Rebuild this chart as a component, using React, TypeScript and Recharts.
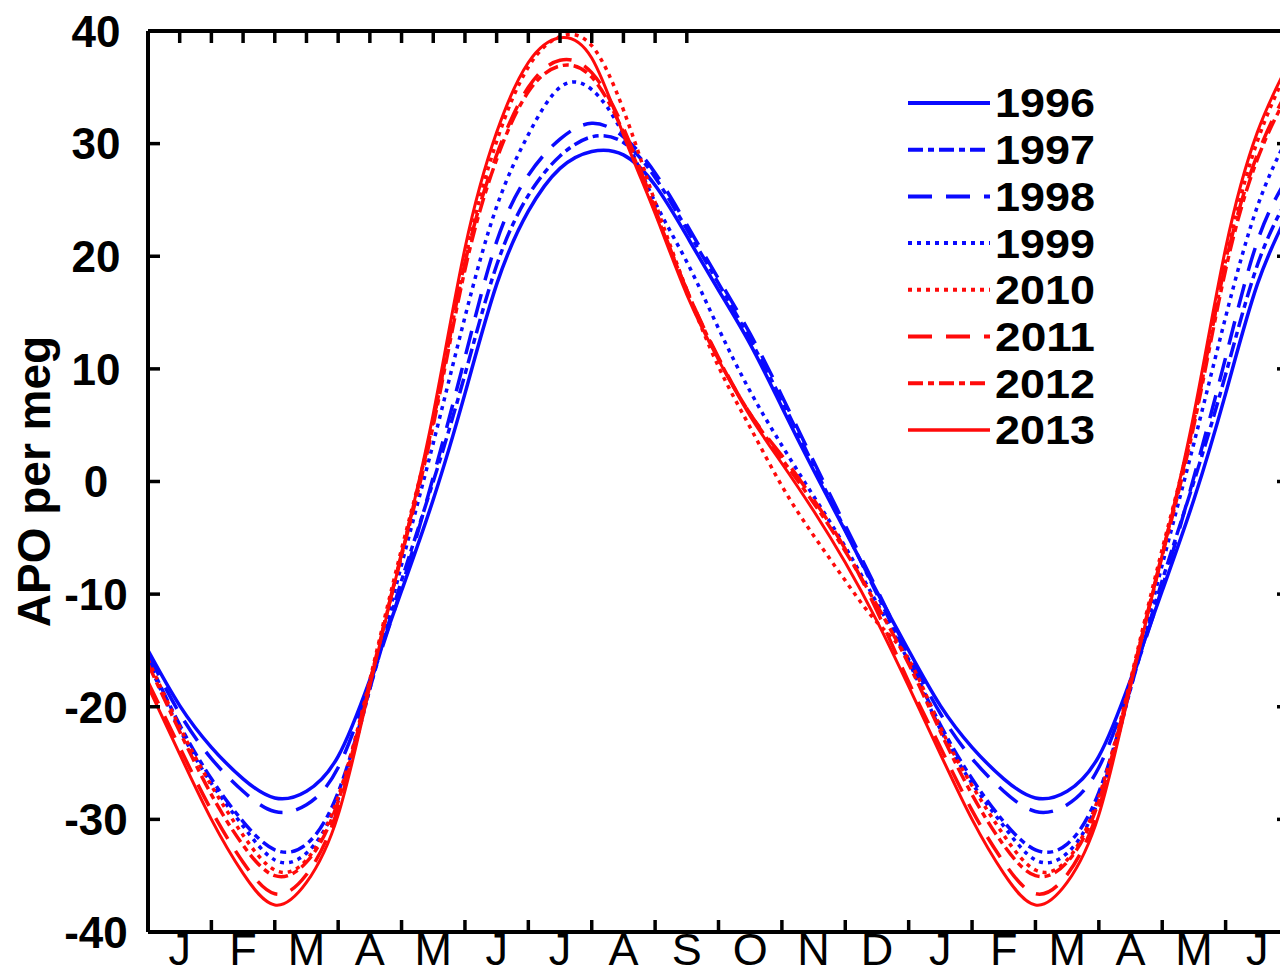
import React from "react";
import { LineChart, Line, XAxis, YAxis, Legend, Label } from "recharts";

const FONT = '"Liberation Sans", Arial, Helvetica, sans-serif';
const BLUE = "#0a0aff";
const RED = "#ff0a0a";
const TICK = 12;

// months since 1 Jan, half-month steps, 18 months shown
const MONTH_X = [
  0, 0.5, 1, 1.5, 2, 2.5, 3, 3.5, 4, 4.5, 5, 5.5, 6, 6.5, 7, 7.5, 8, 8.5, 9,
  9.5, 10, 10.5, 11, 11.5, 12, 12.5, 13, 13.5, 14, 14.5, 15, 15.5, 16, 16.5,
  17, 17.5, 18,
];
const MONTH_LABELS = ["J", "F", "M", "A", "M", "J", "J", "A", "S", "O", "N", "D", "J", "F", "M", "A", "M", "J"];
const MONTH_EDGES = [1, 2, 3, 4, 5, 6, 7, 8, 9, 10, 11, 12, 13, 14, 15, 16, 17];
const MONTH_MIDS = [0.5, 1.5, 2.5, 3.5, 4.5, 5.5, 6.5, 7.5, 8.5, 9.5, 10.5, 11.5, 12.5, 13.5, 14.5, 15.5, 16.5, 17.5];
const Y_TICKS = [-40, -30, -20, -10, 0, 10, 20, 30, 40];

const Y1996 = [
  -15.0, -19.9, -23.6, -26.4, -28.1, -27.5, -24.4, -17.6, -9.7, -1.6, 7.8, 17.5, 24.0, 27.8, 29.3, 29.0, 26.3, 21.8, 17.0,
  12.2, 6.6, 1.0, -4.4, -9.8, -15.0, -19.9, -23.6, -26.4, -28.1, -27.5, -24.4, -17.6, -9.7, -1.6, 7.8, 17.5, 24.0,
];
const Y1997 = [
  -15.8, -21.6, -26.4, -30.2, -32.7, -32.2, -27.6, -18.4, -8.8, 0.0, 9.5, 19.2, 25.4, 28.9, 30.6, 30.1, 27.0, 22.4, 17.6,
  12.6, 7.2, 1.4, -4.3, -10.0, -15.8, -21.6, -26.4, -30.2, -32.7, -32.2, -27.6, -18.4, -8.8, 0.0, 9.5, 19.2, 25.4,
];
const Y1998 = [
  -15.3, -20.6, -24.6, -27.5, -29.3, -28.7, -25.4, -18.0, -9.4, 0.4, 11.0, 21.3, 27.2, 30.4, 31.8, 30.6, 27.4, 22.8, 18.0,
  13.1, 7.6, 1.8, -3.9, -9.6, -15.3, -20.6, -24.6, -27.5, -29.3, -28.7, -25.4, -18.0, -9.4, 0.4, 11.0, 21.3, 27.2,
];
const Y1999 = [
  -16.0, -22.0, -26.8, -30.6, -33.6, -33.0, -28.2, -18.4, -7.4, 3.4, 14.6, 24.4, 30.8, 35.0, 34.8, 30.8, 24.8, 19.5, 13.6,
  8.0, 3.2, -1.3, -5.8, -10.8, -16.0, -22.0, -26.8, -30.6, -33.6, -33.0, -28.2, -18.4, -7.4, 3.4, 14.6, 24.4, 30.8,
];
const Y2010 = [
  -15.8, -21.8, -27.0, -31.4, -34.5, -33.6, -28.0, -17.6, -6.0, 5.4, 19.6, 30.2, 36.8, 39.5, 38.7, 33.0, 24.8, 17.0, 10.2,
  4.8, -0.4, -4.8, -8.8, -12.5, -15.8, -21.8, -27.0, -31.4, -34.5, -33.6, -28.0, -17.6, -6.0, 5.4, 19.6, 30.2, 36.8,
];
const Y2011 = [
  -17.8, -23.6, -29.2, -33.8, -36.6, -34.9, -29.0, -18.0, -6.4, 5.4, 19.4, 29.0, 35.0, 37.4, 36.3, 31.4, 24.2, 17.0, 11.0,
  6.0, 2.3, -1.6, -6.0, -11.5, -17.8, -23.6, -29.2, -33.8, -36.6, -34.9, -29.0, -18.0, -6.4, 5.4, 19.4, 29.0, 35.0,
];
const Y2012 = [
  -16.2, -22.2, -27.8, -32.3, -35.0, -33.8, -28.4, -17.8, -6.6, 5.0, 18.8, 28.6, 34.6, 36.9, 35.9, 31.0, 24.0, 17.0, 10.9,
  6.0, 2.0, -1.9, -6.2, -11.0, -16.2, -22.2, -27.8, -32.3, -35.0, -33.8, -28.4, -17.8, -6.6, 5.0, 18.8, 28.6, 34.6,
];
const Y2013 = [
  -18.2, -24.2, -30.0, -34.8, -37.6, -35.6, -29.6, -18.2, -6.5, 6.0, 20.7, 31.0, 37.2, 39.4, 37.6, 30.8, 23.8, 16.6, 10.8,
  5.8, 1.6, -2.6, -7.2, -12.4, -18.2, -24.2, -30.0, -34.8, -37.6, -35.6, -29.6, -18.2, -6.5, 6.0, 20.7, 31.0, 37.2,
];

const SERIES = [
  { key: "y1996", name: "1996", color: BLUE, dash: undefined, width: 3.5 },
  { key: "y1997", name: "1997", color: BLUE, dash: "15 5 6 5", width: 3.5 },
  { key: "y1998", name: "1998", color: BLUE, dash: "24 14", width: 3.5 },
  { key: "y1999", name: "1999", color: BLUE, dash: "4 5", width: 3.5 },
  { key: "y2010", name: "2010", color: RED, dash: "4 5", width: 3.5 },
  { key: "y2011", name: "2011", color: RED, dash: "24 14", width: 3.5 },
  { key: "y2012", name: "2012", color: RED, dash: "15 5 6 5", width: 3.5 },
  { key: "y2013", name: "2013", color: RED, dash: undefined, width: 3 },
];

const data = MONTH_X.map((m, i) => ({
  m,
  y1996: Y1996[i],
  y1997: Y1997[i],
  y1998: Y1998[i],
  y1999: Y1999[i],
  y2010: Y2010[i],
  y2011: Y2011[i],
  y2012: Y2012[i],
  y2013: Y2013[i],
}));

function BottomTick(props: any) {
  const { x, y, payload } = props;
  const v = payload.value;
  if (Number.isInteger(v)) {
    return <line x1={x} x2={x} y1={y} y2={y - TICK} stroke="#000" strokeWidth={3.5} />;
  }
  return (
    <text x={x} y={y + 33} textAnchor="middle" fontSize={45} fontFamily={FONT} fill="#000">
      {MONTH_LABELS[Math.floor(v)]}
    </text>
  );
}

function TopTick(props: any) {
  const { x, y } = props;
  return <line x1={x} x2={x} y1={y} y2={y + TICK} stroke="#000" strokeWidth={3.5} />;
}

function LeftTick(props: any) {
  const { x, y, payload } = props;
  return (
    <g>
      <line x1={x} x2={x + TICK} y1={y} y2={y} stroke="#000" strokeWidth={3.5} />
      <text x={x - 52} y={y} dy="0.36em" textAnchor="middle" fontSize={44} fontWeight="bold" fontFamily={FONT} fill="#000">
        {payload.value}
      </text>
    </g>
  );
}

function RightTick(props: any) {
  const { x, y } = props;
  return <line x1={x} x2={x - TICK} y1={y} y2={y} stroke="#000" strokeWidth={3.5} />;
}

function LegendBox() {
  return (
    <svg width={220} height={380}>
      {SERIES.map((s, i) => {
        const cy = 25 + i * 46.7;
        return (
          <g key={s.key}>
            <line x1={8} x2={90} y1={cy} y2={cy} stroke={s.color} strokeWidth={s.width + 0.5} strokeDasharray={s.dash} />
            <text
              x={95}
              y={cy}
              dy="0.36em"
              fontSize={40}
              fontWeight="bold"
              fontFamily={FONT}
              fill="#000"
              textLength={100}
              lengthAdjust="spacingAndGlyphs"
            >
              {s.name}
            </text>
          </g>
        );
      })}
    </svg>
  );
}

const axisStroke = { stroke: "#000", strokeWidth: 4 };

export default function App() {
  return (
    <div style={{ position: "absolute", left: 0, top: 0, width: 1280, height: 970, overflow: "hidden", background: "#fff" }}>
      <LineChart width={1300} height={970} data={data} margin={{ top: 30, right: 10, bottom: 0, left: 0 }}>
        <XAxis
          xAxisId="bottom"
          dataKey="m"
          type="number"
          domain={[0, 18]}
          allowDataOverflow
          ticks={[...MONTH_EDGES, ...MONTH_MIDS]}
          interval={0}
          tick={BottomTick}
          tickLine={false}
          tickSize={0}
          tickMargin={0}
          height={38}
          axisLine={axisStroke}
        />
        <XAxis
          xAxisId="top"
          orientation="top"
          type="number"
          domain={[0, 18]}
          allowDataOverflow
          ticks={MONTH_EDGES}
          interval={0}
          tick={TopTick}
          tickLine={false}
          tickSize={0}
          tickMargin={0}
          height={1}
          axisLine={axisStroke}
        />
        <YAxis
          yAxisId="left"
          type="number"
          domain={[-40, 40]}
          allowDataOverflow
          ticks={Y_TICKS}
          interval={0}
          tick={LeftTick}
          tickLine={false}
          tickSize={0}
          tickMargin={0}
          width={148}
          axisLine={axisStroke}
        >
          <Label
            content={(p: any) => {
              const vb = p.viewBox || { x: 0, y: 31, width: 148, height: 901 };
              const cx = vb.x + 50;
              const cy = vb.y + vb.height / 2;
              return (
                <text
                  x={cx}
                  y={cy}
                  transform={`rotate(-90 ${cx} ${cy})`}
                  textAnchor="middle"
                  fontSize={46}
                  fontWeight="bold"
                  fontFamily={FONT}
                  fill="#000"
                >
                  APO per meg
                </text>
              );
            }}
          />
        </YAxis>
        <YAxis
          yAxisId="right"
          orientation="right"
          type="number"
          domain={[-40, 40]}
          allowDataOverflow
          ticks={Y_TICKS}
          interval={0}
          tick={RightTick}
          tickLine={false}
          tickSize={0}
          tickMargin={0}
          width={1}
          axisLine={axisStroke}
        />
        <Legend
          layout="vertical"
          align="center"
          verticalAlign="middle"
          content={() => <LegendBox />}
          wrapperStyle={{ left: 900, top: 78, width: 220, height: 380 }}
        />
        {SERIES.map((s) => (
          <Line
            key={s.key}
            xAxisId="bottom"
            yAxisId="left"
            type="natural"
            dataKey={s.key}
            name={s.name}
            stroke={s.color}
            strokeWidth={s.width}
            strokeDasharray={s.dash}
            dot={false}
            activeDot={false}
            isAnimationActive={false}
          />
        ))}
      </LineChart>
    </div>
  );
}
